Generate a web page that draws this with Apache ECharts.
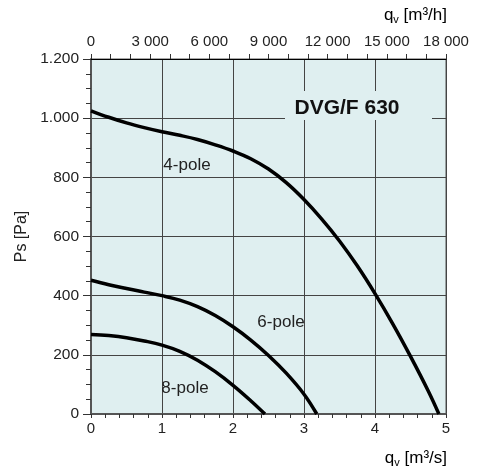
<!DOCTYPE html>
<html>
<head>
<meta charset="utf-8">
<script src="https://cdn.jsdelivr.net/npm/echarts@6/dist/echarts.min.js"></script>
<style>
html,body{margin:0;padding:0;background:#fff;}
#chart{width:478px;height:475px;}
</style>
</head>
<body>
<div id="chart"></div>
<script>
// Flow in m3/s, pressure in Pa
const pole4 = [[0,1025],[0.25,1003],[0.5,984],[0.75,968],[1,954],[1.25,942],[1.5,928],[1.75,910],[2,889],[2.25,863],[2.5,828],[2.75,782],[3,725],[3.25,659],[3.5,585],[3.75,501],[4,407],[4.25,305],[4.5,195],[4.75,78],[4.9,0]];
const pole6 = [[0,452],[0.25,437],[0.5,424],[0.75,412],[1,400],[1.25,385],[1.5,363],[1.75,333],[2,295],[2.25,250],[2.5,198],[2.75,138],[3,67],[3.18,0]];
const pole8 = [[0,269],[0.25,265],[0.5,258],[0.75,247],[1,233],[1.25,212],[1.5,182],[1.75,143],[2,97],[2.25,45],[2.45,0]];
const seriesNames = ['4-pole','6-pole','8-pole'];

const FONT = "'Liberation Sans', Arial, sans-serif";
const BG = '#dfeff0';
const chart = echarts.init(document.getElementById('chart'));

function lineSeries(name, data){
  return {
    name: name, type: 'line', data: data, smooth: 0.4, showSymbol: false, symbol: 'none',
    xAxisIndex: 0, yAxisIndex: 0, z: 10,
    lineStyle: {color: '#000', width: 3.5}
  };
}

chart.setOption({
  animation: false,
  grid: {left: 91, right: 32, top: 59, bottom: 61, show: true, backgroundColor: BG, borderColor: '#555', borderWidth: 1},
  xAxis: [
    {
      type: 'value', position: 'bottom', min: 0, max: 5, interval: 1,
      axisLine: {show: true, lineStyle: {color: '#555', width: 2}},
      axisTick: {show: true, length: 4, inside: false, lineStyle: {color: '#333'}},
      minorTick: {show: true, splitNumber: 5, length: 4, lineStyle: {color: '#333'}},
      splitLine: {show: true, lineStyle: {color: '#444', width: 1}},
      axisLabel: {fontFamily: FONT, fontSize: 15, color: '#222', margin: 7}
    },
    {
      type: 'value', position: 'top', min: 0, max: 18000, interval: 3000,
      axisLine: {show: true, lineStyle: {color: '#000', width: 1}},
      axisTick: {show: true, length: 5, lineStyle: {color: '#333'}},
      minorTick: {show: true, splitNumber: 3, length: 5, lineStyle: {color: '#333'}},
      splitLine: {show: false},
      axisLabel: {fontFamily: FONT, fontSize: 15, color: '#222', margin: 10,
        formatter: v => v >= 1000 ? Math.floor(v/1000) + ' ' + String(v % 1000).padStart(3,'0') : String(v)}
    }
  ],
  yAxis: {
    type: 'value', min: 0, max: 1200, interval: 200,
    name: 'Ps [Pa]', nameLocation: 'middle', nameRotate: 90, nameGap: 59,
    nameTextStyle: {fontFamily: FONT, fontSize: 16, color: '#222'},
    axisLine: {show: true, lineStyle: {color: '#555', width: 2}},
    axisTick: {show: true, length: 8, lineStyle: {color: '#333'}},
    minorTick: {show: true, splitNumber: 4, length: 5, lineStyle: {color: '#333'}},
    splitLine: {show: true, lineStyle: {color: '#444', width: 1}},
    axisLabel: {fontFamily: FONT, fontSize: 15.5, color: '#222', margin: 12, padding: [3,0,0,0],
      formatter: v => v >= 1000 ? Math.floor(v/1000) + '.' + String(v % 1000).padStart(3,'0') : String(v)}
  },
  series: [lineSeries(seriesNames[0], pole4), lineSeries(seriesNames[1], pole6), lineSeries(seriesNames[2], pole8)],
  graphic: [
    {type: 'rect', z: 5, shape: {x: 285, y: 91, width: 147, height: 29}, style: {fill: BG}},
    {type: 'text', z: 6, x: 347, y: 108, style: {text: 'DVG/F 630', font: 'bold 21px ' + FONT, fill: '#111', textAlign: 'center', textVerticalAlign: 'middle'}},
    {type: 'text', z: 6, x: 187, y: 165, style: {text: seriesNames[0], font: '17px ' + FONT, fill: '#222', textAlign: 'center', textVerticalAlign: 'middle'}},
    {type: 'text', z: 6, x: 281, y: 322, style: {text: seriesNames[1], font: '17px ' + FONT, fill: '#222', textAlign: 'center', textVerticalAlign: 'middle'}},
    {type: 'text', z: 6, x: 185, y: 388, style: {text: seriesNames[2], font: '17px ' + FONT, fill: '#222', textAlign: 'center', textVerticalAlign: 'middle'}},
    {type: 'text', z: 6, right: 31, top: 7, style: {text: '{a|q}{s|v}{a| [m³/h]}', rich: {a: {fontFamily: FONT, fontSize: 17, color: '#222'}, s: {fontFamily: FONT, fontSize: 11, color: '#222', verticalAlign: 'bottom', padding: [9,0,0,0]}}}},
    {type: 'text', z: 6, right: 31, top: 450, style: {text: '{a|q}{s|v}{a| [m³/s]}', rich: {a: {fontFamily: FONT, fontSize: 17, color: '#222'}, s: {fontFamily: FONT, fontSize: 11, color: '#222', verticalAlign: 'bottom', padding: [9,0,0,0]}}}}
  ]
});
</script>
</body>
</html>
